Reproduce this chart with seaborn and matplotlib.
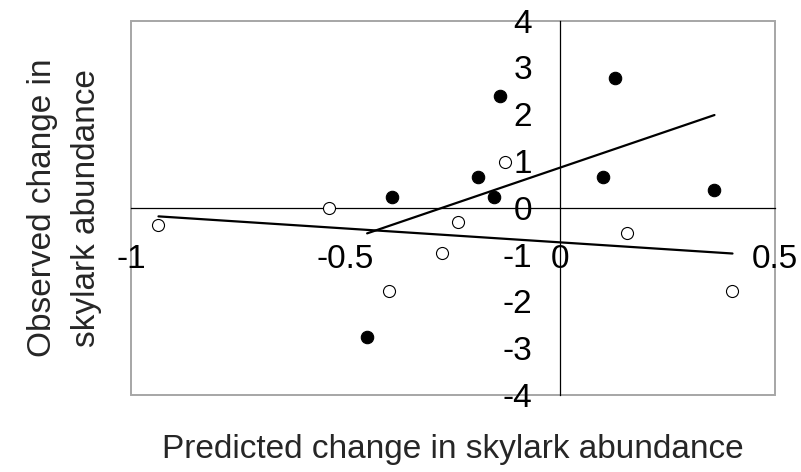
import matplotlib
matplotlib.use("Agg")
import matplotlib.pyplot as plt
from matplotlib.patches import Rectangle
import seaborn as sns

# Predicted vs observed change in skylark abundance, two groups of sites
filled_x = [-0.391, -0.191, -0.155, -0.140, 0.128, 0.099, 0.359, -0.450]
filled_y = [0.24, 0.655, 0.23, 2.40, 2.78, 0.65, 0.38, -2.76]
open_x = [-0.936, -0.538, -0.129, -0.239, -0.276, -0.399, 0.156, 0.401]
open_y = [-0.36, 0.00, 0.99, -0.30, -0.97, -1.78, -0.54, -1.78]

x_ticks = [-1, -0.5, 0, 0.5]
x_tick_labels = ["-1", "-0.5", "0", "0.5"]
y_ticks = [-4, -3, -2, -1, 0, 1, 2, 3, 4]
y_tick_labels = ["-4", "-3", "-2", "-1", "0", "1", "2", "3", "4"]

sns.set_style("white")
plt.rcParams["font.family"] = ["Liberation Sans", "DejaVu Sans"]
plt.rcParams["axes.unicode_minus"] = False

W, H = 801, 472
fig = plt.figure(figsize=(W / 100, H / 100), dpi=100)
L, R, T, B = 131, 775, 20.7, 395
ax = fig.add_axes([L / W, 1 - B / H, (R - L) / W, (B - T) / H])

sns.regplot(x=filled_x, y=filled_y, ci=None, ax=ax,
            scatter_kws=dict(s=80, facecolor="black", edgecolor="black",
                             linewidths=0.8, alpha=1, zorder=3),
            line_kws=dict(color="black", lw=1.6, zorder=2))
sns.regplot(x=open_x, y=open_y, ci=None, ax=ax,
            scatter_kws=dict(s=75, facecolor="white", edgecolor="black",
                             linewidths=0.8, alpha=1, zorder=3),
            line_kws=dict(color="black", lw=1.6, zorder=2))

ax.set_xlim(-1, 0.5)
ax.set_ylim(-4, 4)

# axes cross at the origin, plot area framed in grey
for side in ("top", "right"):
    ax.spines[side].set_visible(False)
for side in ("left", "bottom"):
    ax.spines[side].set_position(("data", 0))
    ax.spines[side].set_color("black")
    ax.spines[side].set_linewidth(0.9)
ax.add_patch(Rectangle((0, 0), 1, 1, transform=ax.transAxes, fill=False,
                       edgecolor="#a6a6a6", lw=1.4, clip_on=False, zorder=0))

ax.set_xticks(x_ticks)
ax.set_xticklabels(x_tick_labels)
ax.set_yticks(y_ticks)
ax.set_yticklabels(y_tick_labels)
ax.tick_params(axis="x", direction="out", length=7.2, width=0.8, pad=19,
               labelsize=24, colors="black")
ax.tick_params(axis="y", direction="out", length=7.2, width=0.8, pad=13,
               labelsize=24, colors="black")

ax.set_xlabel("Predicted change in skylark abundance", fontsize=24)
ax.xaxis.set_label_coords(0.5, -0.105)
ax.set_ylabel("Observed change in\nskylark abundance", fontsize=24,
              multialignment="center", linespacing=1.55)
ax.yaxis.set_label_coords(-0.045, 0.5)

fig.savefig("out.png", dpi=100)
